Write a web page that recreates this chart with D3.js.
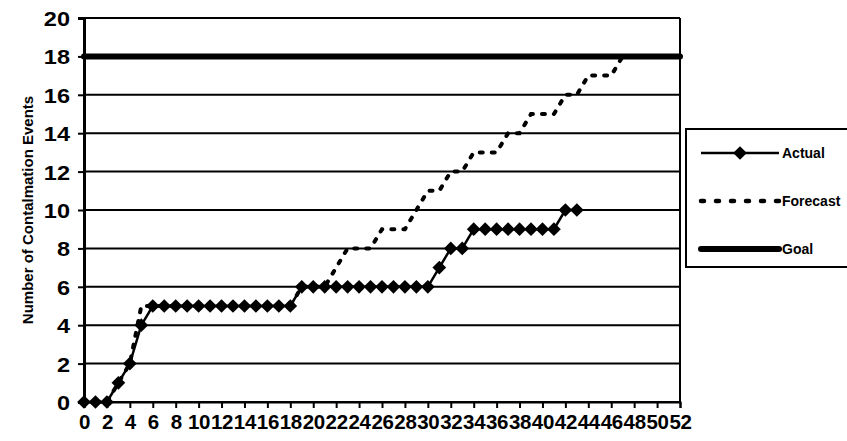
<!DOCTYPE html>
<html lang="en">
<head>
	<meta charset="utf-8">
	<title>Contamination Events</title>
	<script src="https://d3js.org/d3.v7.min.js"></script>
	<style>
		body { margin: 0; background: #fff; }
		text { font-family: "Liberation Sans", Arial, sans-serif; font-weight: bold; fill: #000; }
	</style>
</head>
<body>
<svg class="chart"></svg>

<script>
//data
var weeks = [0,1,2,3,4,5,6,7,8,9,10,11,12,13,14,15,16,17,18,19,20,21,22,23,24,25,26,
	27,28,29,30,31,32,33,34,35,36,37,38,39,40,41,42,43,44,45,46,47,48,49,50,51,52];

var actual = [0,0,0,1,2,4,5,5,5,5,5,5,5,5,5,5,5,5,5,6,6,6,6,6,6,6,6,6,6,6,6,7,8,8,
	9,9,9,9,9,9,9,9,10,10];

var forecast = [0,0,0,1,2,5,5,5,5,5,5,5,5,5,5,5,5,5,5,6,6,6,7,8,8,8,9,9,9,10,11,11,
	12,12,13,13,13,14,14,15,15,15,16,16,17,17,17,18,18,18,18,18,18];

var goal = [18,18,18,18,18,18,18,18,18,18,18,18,18,18,18,18,18,18,18,18,18,18,18,18,
	18,18,18,18,18,18,18,18,18,18,18,18,18,18,18,18,18,18,18,18,18,18,18,18,18,18,18,18,18];

var yTicks = [0,2,4,6,8,10,12,14,16,18,20];
var xTicks = [0,2,4,6,8,10,12,14,16,18,20,22,24,26,28,30,32,34,36,38,40,42,44,46,48,50,52];

var seriesNames = ["Actual", "Forecast", "Goal"];

//set up chart
var width = 847;
var height = 441;
var plot = {left: 84, right: 680, top: 18, bottom: 402};

var svg = d3.select(".chart")
	.attr("width", width)
	.attr("height", height);

var xChart = d3.scalePoint()
	.domain(weeks)
	.range([plot.left, plot.right]);

var yChart = d3.scaleLinear()
	.domain([0, 20])
	.range([plot.bottom, plot.top]);

//horizontal grid lines
svg.append("g")
	.selectAll("line")
	.data(yTicks)
	.enter()
	.append("line")
	.attr("x1", plot.left)
	.attr("x2", plot.right)
	.attr("y1", function(d){ return yChart(d); })
	.attr("y2", function(d){ return yChart(d); })
	.attr("stroke", "#000")
	.attr("stroke-width", 2);

//right border of plot area
svg.append("line")
	.attr("x1", plot.right).attr("x2", plot.right)
	.attr("y1", plot.top).attr("y2", plot.bottom)
	.attr("stroke", "#000")
	.attr("stroke-width", 2);

//left axis
var yAxis = d3.axisLeft(yChart)
	.tickValues(yTicks)
	.tickSize(6)
	.tickPadding(10);

var yg = svg.append("g")
	.attr("transform", "translate(" + plot.left + ",0)")
	.call(yAxis);
yg.select(".domain").attr("stroke-width", 3);
yg.selectAll(".tick line").attr("stroke-width", 2);
yg.selectAll(".tick text")
	.style("font-size", "21px")
	.attr("transform", "scale(1.12,1)")
	.attr("x", -14 / 1.12)
	.attr("dy", "0.36em");

//bottom axis
var xAxis = d3.axisBottom(xChart)
	.tickValues(xTicks)
	.tickSize(6)
	.tickPadding(6);

var xg = svg.append("g")
	.attr("transform", "translate(0," + plot.bottom + ")")
	.call(xAxis);
xg.select(".domain").attr("stroke-width", 2);
xg.selectAll(".tick line").attr("stroke-width", 2);
xg.selectAll(".tick text")
	.style("font-size", "20.5px")
	.style("letter-spacing", "-0.3px");

//axis title
svg.append("text")
	.attr("transform", "translate(33,210) rotate(-90)")
	.style("text-anchor", "middle")
	.style("font-size", "15px")
	.text("Number of Contalmation Events");

//lines
var line = d3.line()
	.x(function(d, i){ return xChart(weeks[i]); })
	.y(function(d){ return yChart(d); });

svg.append("path")
	.datum(goal)
	.attr("d", line)
	.attr("fill", "none")
	.attr("stroke", "#000")
	.attr("stroke-width", 6)
	.attr("stroke-linecap", "round");

svg.append("path")
	.datum(forecast)
	.attr("d", line)
	.attr("fill", "none")
	.attr("stroke", "#000")
	.attr("stroke-width", 4)
	.attr("stroke-linecap", "round")
	.attr("stroke-dasharray", "3,9");

svg.append("path")
	.datum(actual)
	.attr("d", line)
	.attr("fill", "none")
	.attr("stroke", "#000")
	.attr("stroke-width", 2.5);

//diamond markers on the actual series
var diamond = d3.symbol().type(d3.symbolDiamond2).size(120);

svg.append("g")
	.selectAll("path")
	.data(actual)
	.enter()
	.append("path")
	.attr("d", diamond)
	.attr("transform", function(d, i){
		return "translate(" + xChart(weeks[i]) + "," + yChart(d) + ")";
	})
	.attr("fill", "#000");

//legend
var legend = svg.append("g");

legend.append("rect")
	.attr("x", 686)
	.attr("y", 129)
	.attr("width", 180)
	.attr("height", 138)
	.attr("fill", "#fff")
	.attr("stroke", "#000")
	.attr("stroke-width", 2);

var legendY = [153, 201, 249];

var items = legend.selectAll(".item")
	.data(seriesNames)
	.enter()
	.append("g")
	.attr("class", "item")
	.attr("transform", function(d, i){ return "translate(0," + legendY[i] + ")"; });

items.append("line")
	.attr("x1", 701)
	.attr("x2", 779)
	.attr("stroke", "#000")
	.attr("stroke-width", function(d){ return d === "Goal" ? 6 : (d === "Forecast" ? 4.5 : 2.5); })
	.attr("stroke-linecap", function(d){ return d === "Actual" ? "butt" : "round"; })
	.attr("stroke-dasharray", function(d){ return d === "Forecast" ? "3,12" : null; });

items.filter(function(d){ return d === "Actual"; })
	.append("path")
	.attr("d", diamond)
	.attr("transform", "translate(740,0)")
	.attr("fill", "#000");

items.append("text")
	.attr("x", 782)
	.attr("dy", "0.36em")
	.style("font-size", "14px")
	.text(function(d){ return d; });
</script>
</body>
</html>
